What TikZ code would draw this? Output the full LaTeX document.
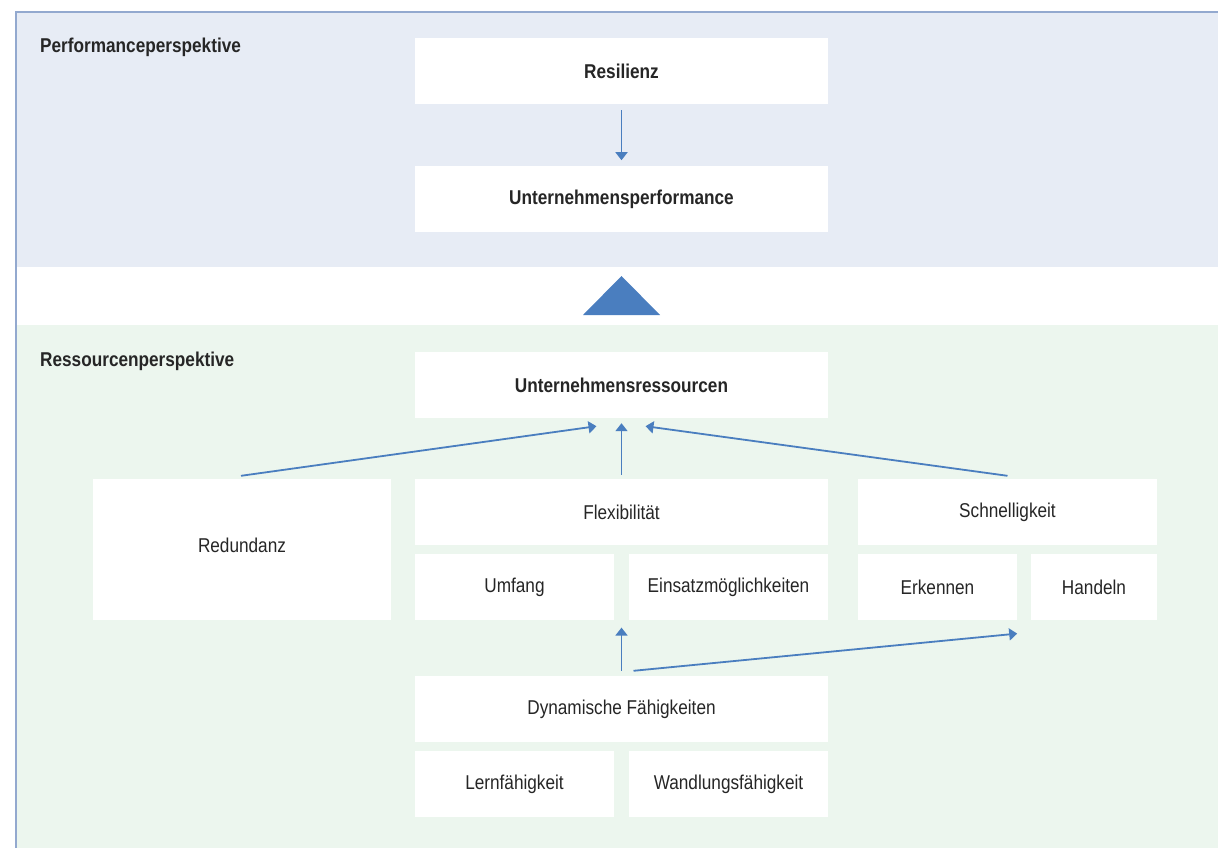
\documentclass[tikz,border=0pt]{standalone}
\usepackage{fontspec}
\setmainfont[FakeStretch=0.86]{Liberation Sans}
\usepackage{xcolor}
\usepackage{tikz}
\usetikzlibrary{arrows.meta,positioning}
\definecolor{perfbg}{HTML}{E7ECF5}
\definecolor{ressbg}{HTML}{ECF6EE}
\definecolor{frameline}{HTML}{93A9CF}
\definecolor{arrowblue}{HTML}{4A7EBF}
\definecolor{txtgray}{HTML}{262626}

\begin{document}
\begin{tikzpicture}[
  x=1pt,y=-1pt,
  box/.style={fill=white,inner sep=0pt,minimum height=66pt,align=center,
              text=txtgray,font=\fontsize{20}{24}\selectfont},
  boldbox/.style={box,font=\fontsize{20}{24}\selectfont\bfseries},
  wide/.style={minimum width=413pt},
  half/.style={minimum width=199pt},
  persp/.style={anchor=west,inner sep=0pt,text=txtgray,
                font=\fontsize{20}{24}\selectfont\bfseries},
  flow/.style={-{Triangle[length=8pt,width=12pt]},line width=1.8pt,draw=arrowblue}
]
\useasboundingbox (0,0) rectangle (1218,848);
% background bands
\fill[perfbg] (16,12) rectangle (1218,267);
\fill[ressbg] (16,325) rectangle (1218,848);
\draw[frameline,line width=2pt] (16,848) -- (16,12) -- (1218,12);
\fill[arrowblue] (583,315) -- (621.5,276) -- (660,315) -- cycle;

\node[persp] (perf-label) at (40,47) {Performanceperspektive};
\node[persp] (ress-label) at (40,361) {Ressourcenperspektive};

% performance
\node[boldbox,wide] (resilienz) at (621.5,71) {Resilienz};
\node[boldbox,wide,below=62pt of resilienz] (performance) {Unternehmensperformance};

% resources
\node[boldbox,wide] (ressourcen) at (621.5,385) {Unternehmensressourcen};
\node[box,minimum width=298pt,minimum height=141pt,text depth=8pt] (redundanz) at (242,549.5) {Redundanz};
\node[box,wide] (flex) at (621.5,512) {Flexibilität};
\node[box,half,below right=9pt and 0pt of flex.south west,anchor=north west] (umfang) {Umfang};
\node[box,half,below left=9pt and 0pt of flex.south east,anchor=north east] (einsatz) {Einsatzmöglichkeiten};
\node[box,minimum width=299pt] (schnell) at (1007.5,512) {Schnelligkeit};
\node[box,minimum width=159pt,below right=9pt and 0pt of schnell.south west,anchor=north west] (erkennen) {Erkennen};
\node[box,minimum width=126pt,below left=9pt and 0pt of schnell.south east,anchor=north east] (handeln) {Handeln};

\node[box,wide] (dynamik) at (621.5,709) {Dynamische Fähigkeiten};
\node[box,half,below right=9pt and 0pt of dynamik.south west,anchor=north west] (lernen) {Lernfähigkeit};
\node[box,half,below left=9pt and 0pt of dynamik.south east,anchor=north east] (wandlung) {Wandlungsfähigkeit};

\draw[flow,shorten <=6pt,shorten >=6pt] (resilienz) -- (performance);
\draw[flow] ([xshift=-1pt,yshift=3pt]redundanz.north) -- ([xshift=-25pt,yshift=-8pt]ressourcen.south);
\draw[flow,shorten <=4pt,shorten >=5pt] (flex) -- (ressourcen);
\draw[flow] ([yshift=3pt]schnell.north) -- ([xshift=24pt,yshift=-8pt]ressourcen.south);
\draw[flow,shorten <=5pt,shorten >=7pt] (dynamik.north) -- (flex.south |- umfang.south);
\draw[flow] ([xshift=12pt,yshift=5pt]dynamik.north) -- ([yshift=-13pt]erkennen.south east);
\end{tikzpicture}
\end{document}
